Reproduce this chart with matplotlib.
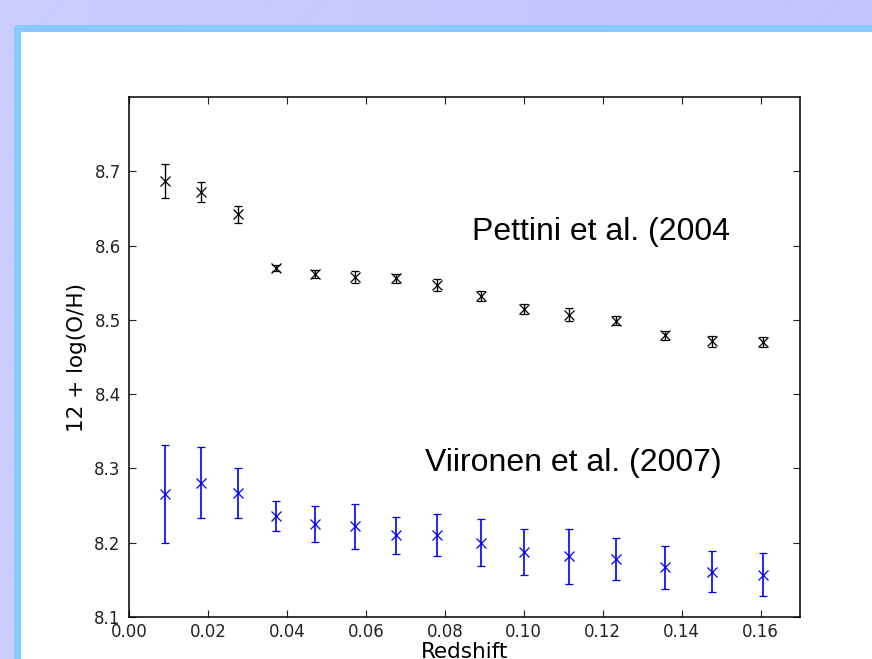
import matplotlib
matplotlib.use("Agg")
import matplotlib.pyplot as plt
from matplotlib.patches import FancyBboxPatch, Rectangle
import numpy as np

plt.rcParams['font.family'] = ['DejaVu Sans']

# redshift bins (shared by both calibrations)
redshift = [0.0091, 0.0182, 0.0276, 0.0372, 0.0471, 0.0572, 0.0676, 0.0780,
            0.0891, 0.1000, 0.1114, 0.1233, 0.1357, 0.1478, 0.1607]

# Pettini et al. (2004)
pettini = [8.687, 8.672, 8.642, 8.570, 8.562, 8.558, 8.556, 8.547,
           8.532, 8.515, 8.507, 8.499, 8.479, 8.471, 8.470]
pettini_err = [0.023, 0.014, 0.011, 0.004, 0.005, 0.008, 0.006, 0.008,
               0.007, 0.007, 0.009, 0.006, 0.006, 0.007, 0.007]

# Viironen et al. (2007)
viironen = [8.266, 8.281, 8.267, 8.236, 8.225, 8.222, 8.210, 8.210,
            8.200, 8.188, 8.182, 8.178, 8.167, 8.161, 8.157]
viironen_err = [0.066, 0.048, 0.034, 0.020, 0.024, 0.030, 0.025, 0.028,
                0.032, 0.031, 0.037, 0.028, 0.029, 0.028, 0.029]

xticks = [0.00, 0.02, 0.04, 0.06, 0.08, 0.10, 0.12, 0.14, 0.16]
yticks = [8.1, 8.2, 8.3, 8.4, 8.5, 8.6, 8.7]

W, H = 872, 659
fig = plt.figure(figsize=(W / 100, H / 100), dpi=100)

# slide background: lavender gradient with faint diagonal lines
bg = fig.add_axes([0, 0, 1, 1], zorder=-1)
bg.set_xlim(0, W)
bg.set_ylim(H, 0)
bg.axis("off")
grad = np.linspace(0, 1, 256)[None, :]
cmap = matplotlib.colors.LinearSegmentedColormap.from_list("lav", ["#cdcdff", "#c3c3ff"])
bg.imshow(grad, cmap=cmap, extent=[0, W, H, 0], aspect="auto", zorder=0)
for x0 in range(-700, 900, 52):
    bg.plot([x0, x0 + H], [H, 0], color="#b4c0ff", lw=0.5, alpha=0.45, zorder=1)

# light blue frame and white panel
bg.add_patch(FancyBboxPatch((14, 25), 900, 700, boxstyle="round,pad=0,rounding_size=4",
                            facecolor="#88ccff", edgecolor="none", zorder=2))
bg.add_patch(Rectangle((21, 32), 900, 700, facecolor="white", edgecolor="none", zorder=3))

# main chart
ax = fig.add_axes([129 / W, 1 - 617 / H, 671 / W, 520 / H])
ax.errorbar(redshift, pettini, yerr=pettini_err, fmt="x", color="k", ecolor="k",
            capsize=3, markersize=7, elinewidth=1, capthick=1, markeredgewidth=0.9)
ax.errorbar(redshift, viironen, yerr=viironen_err, fmt="x", color="b", ecolor="b",
            capsize=3, markersize=7, elinewidth=1.2, capthick=1.2, markeredgewidth=0.9)

ax.set_xlim(0, 0.17)
ax.set_ylim(8.1, 8.8)
ax.set_xticks(xticks)
ax.set_xticklabels(["%.2f" % t for t in xticks])
ax.set_yticks(yticks)
ax.set_yticklabels(["%.1f" % t for t in yticks])
ax.tick_params(direction="in", top=True, right=True, length=5, width=0.8,
               labelsize=12, colors="#222222", labelcolor="#222222")
ax.tick_params(axis="x", pad=4)
ax.tick_params(axis="y", pad=6)
for s in ax.spines.values():
    s.set_linewidth(1.1)

ax.set_ylabel("12 + log(O/H)", fontsize=15.5, labelpad=5)
ax.set_xlabel("Redshift", fontsize=15.5, labelpad=1)

ax.text(0.087, 8.608, "Pettini et al. (2004", fontsize=23, family="Liberation Sans")
ax.text(0.0749, 8.296, "Viironen et al. (2007)", fontsize=23, family="Liberation Sans")

fig.savefig("out.png", dpi=100)
